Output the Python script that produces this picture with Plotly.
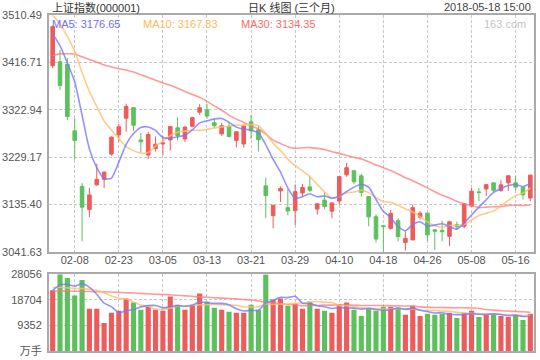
import plotly.graph_objects as go

# ---------------- data ----------------
dates = [
    "2018-02-05", "2018-02-06", "2018-02-07", "2018-02-08", "2018-02-09", "2018-02-12", "2018-02-13",
    "2018-02-14", "2018-02-22", "2018-02-23", "2018-02-26", "2018-02-27", "2018-02-28", "2018-03-01",
    "2018-03-02", "2018-03-05", "2018-03-06", "2018-03-07", "2018-03-08", "2018-03-09", "2018-03-12",
    "2018-03-13", "2018-03-14", "2018-03-15", "2018-03-16", "2018-03-19", "2018-03-20", "2018-03-21",
    "2018-03-22", "2018-03-23", "2018-03-26", "2018-03-27", "2018-03-28", "2018-03-29", "2018-03-30",
    "2018-04-02", "2018-04-03", "2018-04-04", "2018-04-09", "2018-04-10", "2018-04-11", "2018-04-12",
    "2018-04-13", "2018-04-16", "2018-04-17", "2018-04-18", "2018-04-19", "2018-04-20", "2018-04-23",
    "2018-04-24", "2018-04-25", "2018-04-26", "2018-04-27", "2018-05-02", "2018-05-03", "2018-05-04",
    "2018-05-07", "2018-05-08", "2018-05-09", "2018-05-10", "2018-05-11", "2018-05-14", "2018-05-15",
    "2018-05-16", "2018-05-17", "2018-05-18",
]

opens = [
    3410.0, 3418.0, 3413.0, 3281.0, 3171.0, 3125.0, 3174.0, 3185.0, 3235.0, 3273.0,
    3306.0, 3327.0, 3263.0, 3233.0, 3246.0, 3255.0, 3263.0, 3287.0, 3265.0, 3290.0,
    3318.0, 3323.0, 3297.0, 3275.0, 3290.0, 3262.0, 3255.0, 3299.0, 3283.0, 3172.0,
    3113.0, 3162.0, 3129.0, 3123.0, 3158.0, 3170.0, 3126.0, 3144.0, 3122.0, 3142.0,
    3194.0, 3202.0, 3192.0, 3151.0, 3111.0, 3093.0, 3088.0, 3103.0, 3060.0, 3065.0,
    3110.0, 3118.0, 3085.0, 3084.0, 3072.0, 3095.0, 3092.0, 3132.0, 3160.0, 3166.0,
    3178.0, 3163.0, 3178.0, 3178.0, 3169.0, 3148.0,
]
highs = [
    3490.0, 3441.0, 3425.0, 3306.0, 3178.0, 3168.0, 3216.0, 3201.0, 3270.0, 3295.0,
    3335.0, 3328.0, 3277.0, 3279.0, 3270.0, 3271.0, 3290.0, 3308.0, 3290.0, 3309.0,
    3334.0, 3335.0, 3305.0, 3297.0, 3298.0, 3280.0, 3291.0, 3313.0, 3290.0, 3188.0,
    3134.0, 3171.0, 3165.0, 3175.0, 3176.0, 3191.0, 3137.0, 3160.0, 3139.0, 3191.0,
    3218.0, 3203.0, 3196.0, 3152.0, 3116.0, 3094.0, 3124.0, 3108.0, 3082.0, 3135.0,
    3122.0, 3119.0, 3086.0, 3103.0, 3103.0, 3101.0, 3137.0, 3168.0, 3168.0, 3176.0,
    3179.0, 3183.0, 3193.0, 3192.0, 3170.0, 3194.0,
]
lows = [
    3405.0, 3362.0, 3302.0, 3224.0, 3062.0, 3110.0, 3172.0, 3168.0, 3232.0, 3260.0,
    3279.0, 3281.0, 3238.0, 3225.0, 3240.0, 3233.0, 3242.0, 3262.0, 3259.0, 3288.0,
    3313.0, 3305.0, 3285.0, 3271.0, 3268.0, 3248.0, 3248.0, 3265.0, 3240.0, 3108.0,
    3088.0, 3140.0, 3114.0, 3094.0, 3150.0, 3160.0, 3115.0, 3126.0, 3108.0, 3135.0,
    3190.0, 3175.0, 3151.0, 3092.0, 3060.0, 3041.63, 3085.0, 3062.0, 3044.0, 3064.0,
    3105.0, 3063.0, 3045.0, 3062.0, 3053.0, 3085.0, 3088.0, 3131.0, 3142.0, 3152.0,
    3160.0, 3160.0, 3162.0, 3163.0, 3145.0, 3142.0,
]
closes = [
    3487.50, 3370.65, 3309.26, 3262.05, 3129.85, 3154.13, 3184.96, 3199.16, 3268.56, 3289.02,
    3329.57, 3292.07, 3259.41, 3273.75, 3254.53, 3256.93, 3289.64, 3271.67, 3288.41, 3307.17,
    3326.70, 3310.24, 3291.38, 3291.11, 3269.88, 3279.25, 3290.64, 3280.95, 3263.48, 3152.76,
    3133.72, 3166.65, 3122.29, 3160.53, 3168.90, 3163.18, 3136.63, 3131.11, 3138.29, 3190.32,
    3208.08, 3180.16, 3159.05, 3110.65, 3066.80, 3091.40, 3117.38, 3071.54, 3068.01, 3128.93,
    3117.97, 3075.03, 3082.23, 3081.18, 3100.86, 3091.03, 3136.64, 3161.50, 3159.15, 3174.41,
    3163.26, 3174.03, 3192.12, 3169.57, 3154.28, 3193.30,
]

ma5 = [
    3473.08, 3449.61, 3415.29, 3378.31, 3311.86, 3245.19, 3208.05, 3186.03, 3187.33, 3219.17,
    3254.25, 3275.68, 3287.73, 3288.76, 3281.87, 3267.34, 3266.85, 3269.30, 3272.24, 3282.76,
    3296.72, 3300.84, 3304.78, 3305.32, 3297.86, 3288.37, 3284.45, 3282.37, 3276.84, 3253.42,
    3224.31, 3199.51, 3167.78, 3147.19, 3150.42, 3156.31, 3150.31, 3152.07, 3147.62, 3151.91,
    3160.89, 3169.59, 3175.18, 3169.65, 3144.95, 3121.61, 3109.06, 3091.55, 3083.03, 3095.45,
    3100.77, 3092.30, 3094.43, 3097.07, 3091.45, 3086.07, 3098.39, 3114.24, 3129.84, 3144.55,
    3158.99, 3166.47, 3172.59, 3174.68, 3170.65, 3176.66,
]
ma10 = [
    3510.08, 3492.50, 3467.48, 3438.85, 3396.02, 3359.13, 3328.83, 3300.66, 3282.82, 3265.51,
    3249.72, 3241.86, 3236.88, 3238.05, 3250.52, 3260.80, 3271.26, 3278.52, 3280.50, 3282.32,
    3282.03, 3283.85, 3287.04, 3288.78, 3290.31, 3292.55, 3292.65, 3293.57, 3291.08, 3275.64,
    3256.34, 3241.98, 3225.07, 3212.02, 3201.92, 3190.31, 3174.91, 3159.93, 3147.41, 3151.16,
    3158.60, 3159.95, 3163.63, 3158.64, 3148.43, 3141.25, 3139.32, 3133.37, 3126.34, 3120.20,
    3111.19, 3100.68, 3092.99, 3090.05, 3093.45, 3093.42, 3095.34, 3104.34, 3113.45, 3118.00,
    3122.53, 3132.43, 3143.42, 3152.26, 3157.60, 3167.83,
]
ma30 = [
    3430.56, 3433.57, 3433.67, 3433.21, 3427.66, 3422.56, 3417.12, 3411.45, 3407.55, 3404.12,
    3401.46, 3397.40, 3391.98, 3386.93, 3381.12, 3375.99, 3371.10, 3365.33, 3359.12, 3353.10,
    3347.28, 3339.40, 3330.47, 3321.89, 3312.28, 3304.16, 3297.58, 3290.92, 3284.80, 3274.49,
    3262.70, 3255.90, 3249.66, 3246.28, 3247.58, 3247.88, 3246.27, 3244.00, 3239.66, 3236.37,
    3232.32, 3228.59, 3225.25, 3219.81, 3213.55, 3208.03, 3202.29, 3195.62, 3188.28, 3182.33,
    3175.38, 3167.54, 3160.56, 3153.57, 3147.93, 3141.66, 3136.53, 3132.54, 3129.07, 3129.79,
    3130.77, 3131.02, 3133.35, 3133.65, 3133.16, 3134.16,
]

volumes = [
    22200, 28056, 26690, 20330, 25940, 15460, 15460, 10230, 13970, 14710,
    19200, 17710, 15090, 16210, 15090, 14710, 19950, 16960, 15090, 16960,
    21070, 18080, 15840, 15090, 14340, 13970, 13970, 16960, 15090, 28000,
    18830, 19200, 16590, 17330, 15460, 18080, 15460, 14710, 13970, 16960,
    17710, 15090, 12840, 15460, 14710, 16210, 16210, 15840, 13220, 16590,
    12840, 13590, 13220, 13590, 13970, 12100, 13970, 14710, 12470, 13590,
    13220, 12840, 12470, 13220, 11350, 13590,
]
vol_ma5 = [
    22200, 24100, 24400, 23700, 24643, 23295, 20776, 17484, 16212, 13966,
    14714, 15164, 16136, 16584, 16660, 15762, 16210, 16584, 16360, 16734,
    18006, 17632, 17408, 17408, 16884, 15464, 14642, 14866, 14866, 17598,
    18570, 19616, 19542, 19990, 17482, 17332, 16584, 16208, 15536, 15836,
    15762, 15688, 15314, 15612, 15162, 14862, 15086, 15686, 15238, 15614,
    14940, 14416, 13892, 13966, 13442, 13294, 13370, 13668, 13444, 13368,
    13592, 13366, 12918, 13068, 12620, 12694,
]
vol_ma10 = [
    23200, 23300, 23100, 22900, 22800, 22600, 22200, 21300, 20100, 19305,
    19005, 17970, 16810, 16398, 15313, 15238, 15687, 16360, 16472, 16697,
    16884, 16921, 16996, 16884, 16809, 16735, 16137, 16137, 16137, 17241,
    17017, 17129, 17204, 17428, 17540, 17951, 18100, 17875, 17763, 16659,
    16547, 16136, 15761, 15574, 15499, 15312, 15387, 15500, 15425, 15388,
    14901, 14751, 14789, 14602, 14528, 14117, 13893, 13780, 13705, 13405,
    13443, 13368, 13293, 13256, 12994, 13143,
]
vol_ma30 = [
    21950, 21920, 21880, 21850, 21820, 21760, 21700, 21630, 21570, 21450,
    21320, 21200, 21070, 20920, 20760, 20650, 20560, 20380, 20180, 20000,
    19800, 19650, 19500, 19350, 19200, 19050, 18850, 18650, 18300, 17748,
    17635, 17340, 17003, 16903, 16554, 16641, 16641, 16791, 16791, 16866,
    16816, 16729, 16654, 16629, 16616, 16666, 16541, 16504, 16442, 16429,
    16155, 16005, 15918, 15868, 15856, 15793, 15793, 15718, 15631, 15151,
    14964, 14752, 14614, 14477, 14340, 14191,
]

tick_dates = ["2018-02-08", "2018-02-23", "2018-03-05", "2018-03-13", "2018-03-21", "2018-03-29",
              "2018-04-10", "2018-04-18", "2018-04-26", "2018-05-08", "2018-05-16"]
tick_labels = ["02-08", "02-23", "03-05", "03-13", "03-21", "03-29",
               "04-10", "04-18", "04-26", "05-08", "05-16"]

price_ticks = [3041.63, 3135.40, 3229.17, 3322.94, 3416.71, 3510.49]
price_tick_labels = ["3041.63", "3135.40", "3229.17", "3322.94", "3416.71", "3510.49"]
vol_ticks = [0, 9352, 18704, 28056]
vol_tick_labels = ["万手", "9352", "18704", "28056"]

title_left = "上证指数(000001)"
title_mid = "日K 线图 (三个月)"
title_right = "2018-05-18 15:00"
legend_ma5 = "MA5: 3176.65"
legend_ma10 = "MA10: 3167.83"
legend_ma30 = "MA30: 3134.35"
watermark = "163.com"

# ---------------- styles ----------------
UP = "#ee5b5b"
DOWN = "#5cc15c"
C_MA5 = "rgba(120,120,255,0.8)"
C_MA10 = "rgba(255,190,110,0.8)"
C_MA30 = "rgba(255,120,120,0.75)"
GRID = "#c8c8c8"
BORDER = "#aaaaaa"
FONT = "Liberation Sans, Arial, Noto Sans CJK SC, sans-serif"
TXT = "#555555"

W, H = 540, 360
L, R, T, B = 49, 6, 15, 9
plot_w = W - L - R
plot_h = H - T - B


def px_x(x):
    return (x - L) / plot_w


def px_y(y):
    return (H - B - y) / plot_h


price_bottom_px = 251.7
vol_top_px = 274.3

vol_colors = [UP if c >= o else DOWN for o, c in zip(opens, closes)]

fig = go.Figure()

fig.add_trace(go.Candlestick(
    x=dates, open=opens, high=highs, low=lows, close=closes,
    increasing=dict(line=dict(color=UP, width=1), fillcolor=UP),
    decreasing=dict(line=dict(color=DOWN, width=1), fillcolor=DOWN),
    whiskerwidth=0, xaxis="x", yaxis="y", hoverinfo="skip", showlegend=False,
))

for ys, col in ((ma30, C_MA30), (ma10, C_MA10), (ma5, C_MA5)):
    fig.add_trace(go.Scatter(
        x=dates, y=ys, mode="lines", xaxis="x", yaxis="y",
        line=dict(color=col, width=1.6, shape="spline", smoothing=0.6),
        hoverinfo="skip", showlegend=False,
    ))

fig.add_trace(go.Bar(
    x=dates, y=volumes, marker=dict(color=vol_colors, line=dict(width=0)),
    xaxis="x2", yaxis="y2", hoverinfo="skip", showlegend=False,
))

for ys, col in ((vol_ma30, C_MA30), (vol_ma10, C_MA10), (vol_ma5, C_MA5)):
    fig.add_trace(go.Scatter(
        x=dates, y=ys, mode="lines", xaxis="x2", yaxis="y2",
        line=dict(color=col, width=1.6, shape="spline", smoothing=0.6),
        hoverinfo="skip", showlegend=False,
    ))

axis_common = dict(
    showline=True, mirror=True, linecolor=BORDER, linewidth=2,
    showgrid=True, gridcolor=GRID, griddash="3px,2px", gridwidth=1,
    zeroline=False, ticks="", tickfont=dict(family=FONT, size=11, color=TXT),
    fixedrange=True, automargin=False,
)

fig.update_layout(
    width=W, height=H,
    margin=dict(l=L, r=R, t=T, b=B, pad=0, autoexpand=False),
    paper_bgcolor="white", plot_bgcolor="white",
    showlegend=False, bargap=0.3, boxgap=0.3,
    font=dict(family=FONT, size=11, color=TXT),
    xaxis=dict(
        axis_common, type="category", categoryorder="array", categoryarray=dates,
        range=[-0.5, len(dates) - 0.5], anchor="y", domain=[0, 1],
        tickmode="array", tickvals=tick_dates, ticktext=tick_labels,
        rangeslider=dict(visible=False), ticklabelstandoff=-3,
    ),
    yaxis=dict(
        axis_common, domain=[px_y(price_bottom_px), 1], range=[price_ticks[0], price_ticks[-1]],
        tickmode="array", tickvals=price_ticks, ticktext=price_tick_labels, anchor="x",
        ticklabelstandoff=3,
    ),
    xaxis2=dict(
        axis_common, type="category", categoryorder="array", categoryarray=dates,
        range=[-0.5, len(dates) - 0.5], anchor="y2", domain=[0, 1],
        tickmode="array", tickvals=tick_dates, showticklabels=False,
    ),
    yaxis2=dict(
        axis_common, domain=[0, px_y(vol_top_px)], range=[0, vol_ticks[-1]],
        tickmode="array", tickvals=vol_ticks, ticktext=vol_tick_labels, anchor="x2",
        ticklabelstandoff=3,
    ),
)

annotations = [
    dict(text=title_left, x=px_x(51), y=px_y(7), xanchor="left", font=dict(size=11, color="#333")),
    dict(text=title_mid, x=px_x(291), y=px_y(7), xanchor="center", font=dict(size=11, color="#333")),
    dict(text=title_right, x=px_x(532), y=px_y(7), xanchor="right", font=dict(size=11, color="#444")),
    dict(text=legend_ma5, x=px_x(51), y=px_y(24), xanchor="left", font=dict(size=11, color="#6f6fff")),
    dict(text=legend_ma10, x=px_x(142), y=px_y(24), xanchor="left", font=dict(size=11, color="#ffb860")),
    dict(text=legend_ma30, x=px_x(240), y=px_y(24), xanchor="left", font=dict(size=11, color="#ff6a6a")),
    dict(text=watermark, x=px_x(527), y=px_y(24), xanchor="right", font=dict(size=11, color="#c4c4c4")),
]
for a in annotations:
    a.update(xref="paper", yref="paper", yanchor="middle", showarrow=False, borderpad=0)
    a["font"]["family"] = FONT
fig.update_layout(annotations=annotations)

# the page's default 8px body margin would push the 540x360 figure out of the window
fig.write_html(
    "out.html",
    config={"displayModeBar": False, "staticPlot": True},
    post_script="document.body.style.margin='0';",
)
